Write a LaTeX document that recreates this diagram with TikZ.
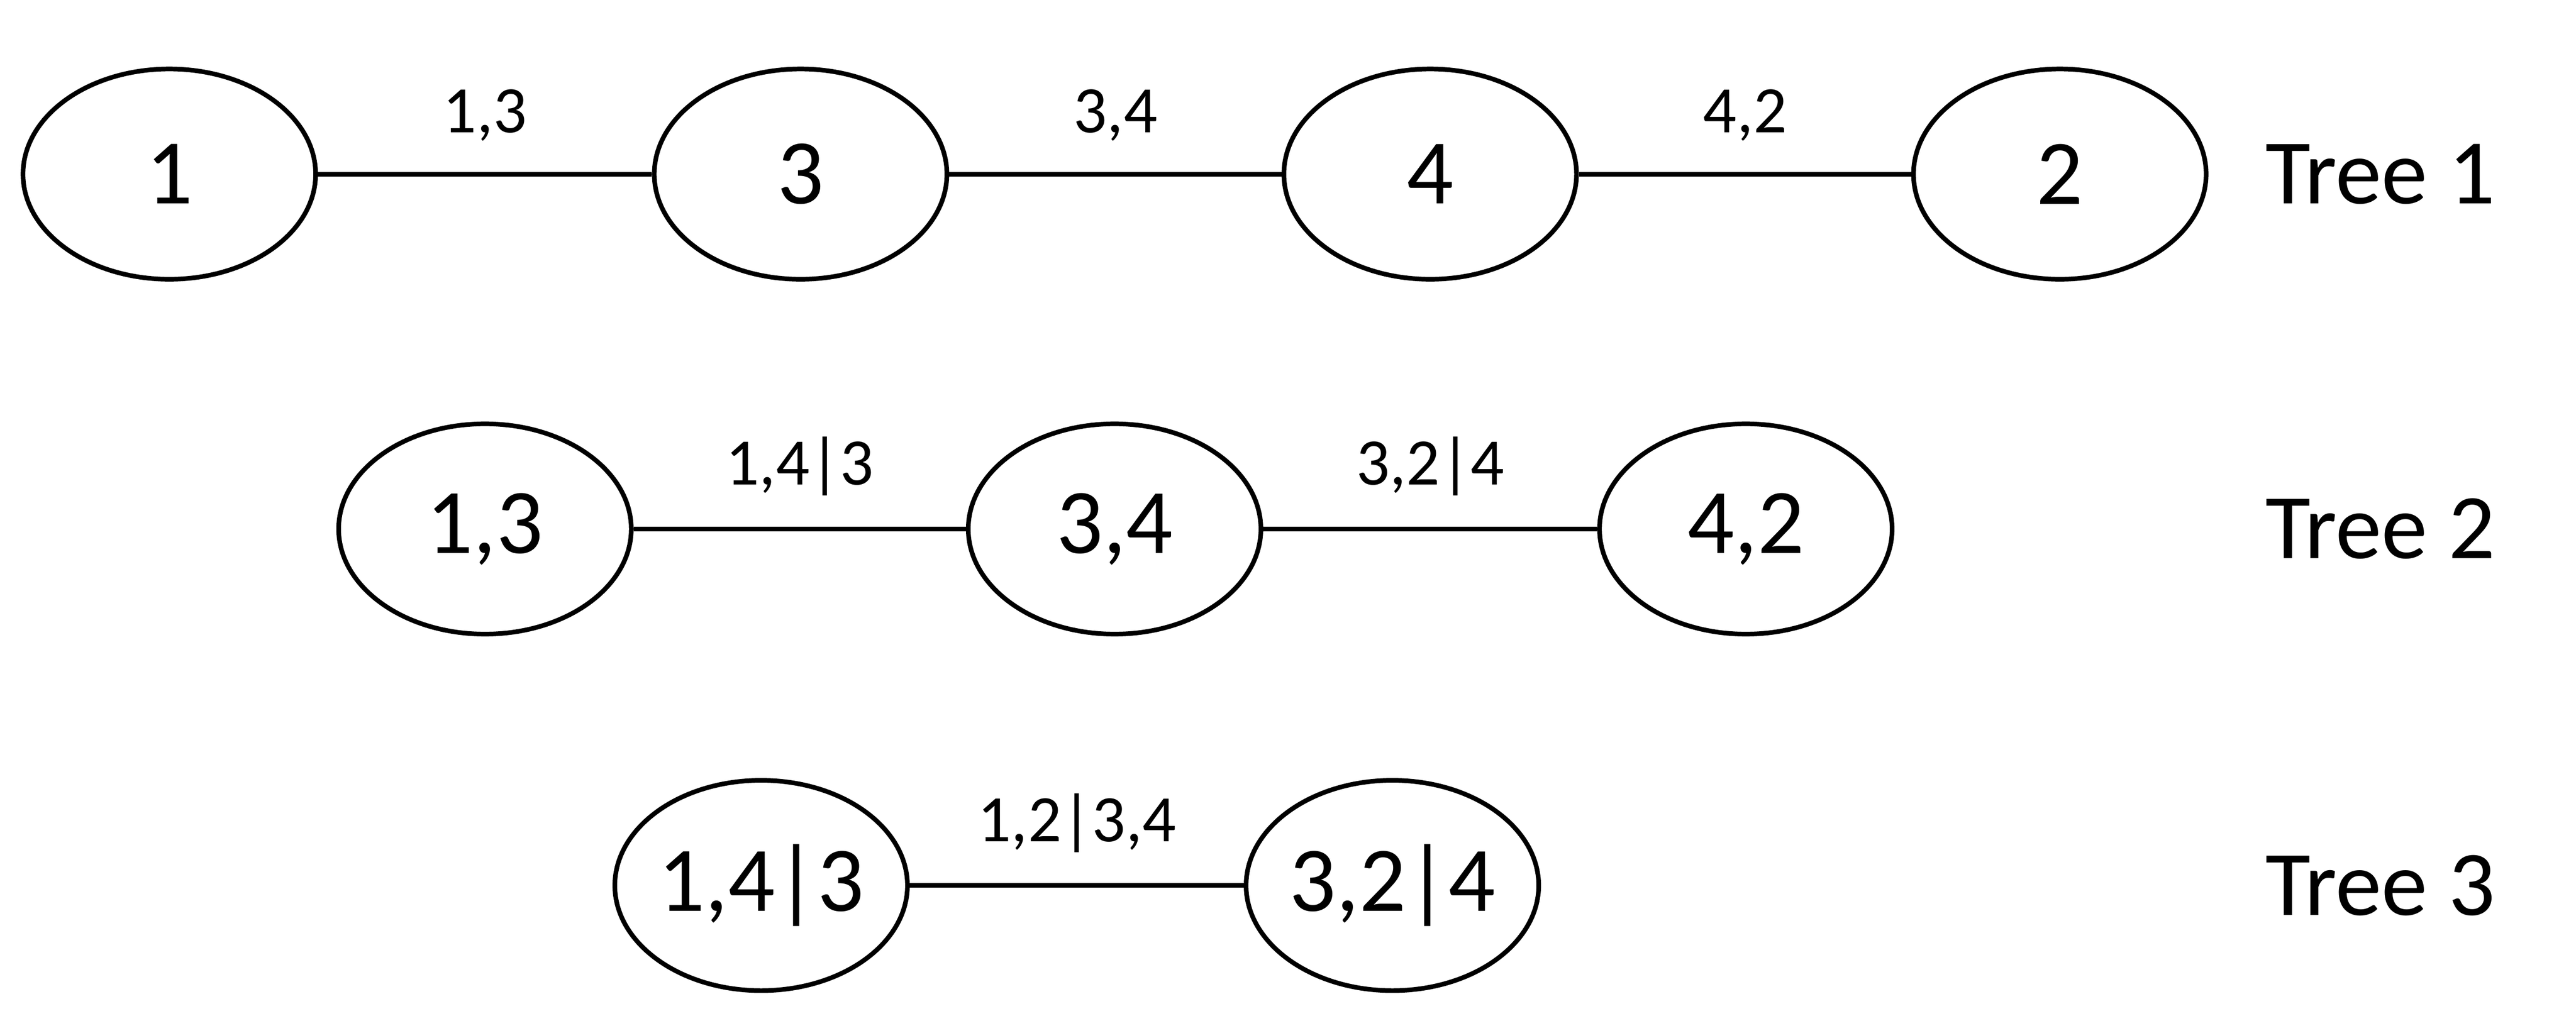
\documentclass[tikz,border=0pt]{standalone}
\usepackage{fontspec}
\setmainfont{Carlito}
\usetikzlibrary{shapes.geometric}
\tikzstyle{vine} = [ellipse, draw, line width=0.8pt, minimum width=1.78cm, minimum height=1.28cm, inner sep=0pt, font=\fontsize{16}{18}\selectfont]
\tikzstyle{edge} = [line width=0.8pt]
\tikzstyle{elabel} = [above, font=\fontsize{11.5}{13}\selectfont, yshift=2pt]
\tikzstyle{treelabel} = [font=\fontsize{16}{18}\selectfont]

\begin{document}
\begin{tikzpicture}
        \useasboundingbox (0,0) rectangle (15.67,6.214);
        % tree 1
        \node (node1) [vine] at (1.03,5.154) {1};
        \node (node3) [vine] at (4.87,5.154) {3};
        \node (node4) [vine] at (8.70,5.154) {4};
        \node (node2) [vine] at (12.53,5.154) {2};
        \node (tree1) [treelabel] at (14.48,5.154) {Tree 1};
        \draw [edge] (node1) --node[elabel] {1,3} (node3);
        \draw [edge] (node3) --node[elabel] {3,4} (node4);
        \draw [edge] (node4) --node[elabel] {4,2} (node2);

        % tree 2
        \node (node13) [vine] at (2.95,2.994) {1,3};
        \node (node34) [vine] at (6.78,2.994) {3,4};
        \node (node42) [vine] at (10.62,2.994) {4,2};
        \node (tree2) [treelabel] at (14.48,2.994) {Tree 2};
        \draw [edge] (node13) --node[elabel] {1,4|3} (node34);
        \draw [edge] (node34) --node[elabel] {3,2|4} (node42);

        % tree 3
        \node (node143) [vine] at (4.63,0.824) {1,4|3};
        \node (node324) [vine] at (8.47,0.824) {3,2|4};
        \node (tree3) [treelabel] at (14.48,0.824) {Tree 3};
        \draw [edge] (node143) --node[elabel] {1,2|3,4} (node324);
    \end{tikzpicture}
\end{document}
